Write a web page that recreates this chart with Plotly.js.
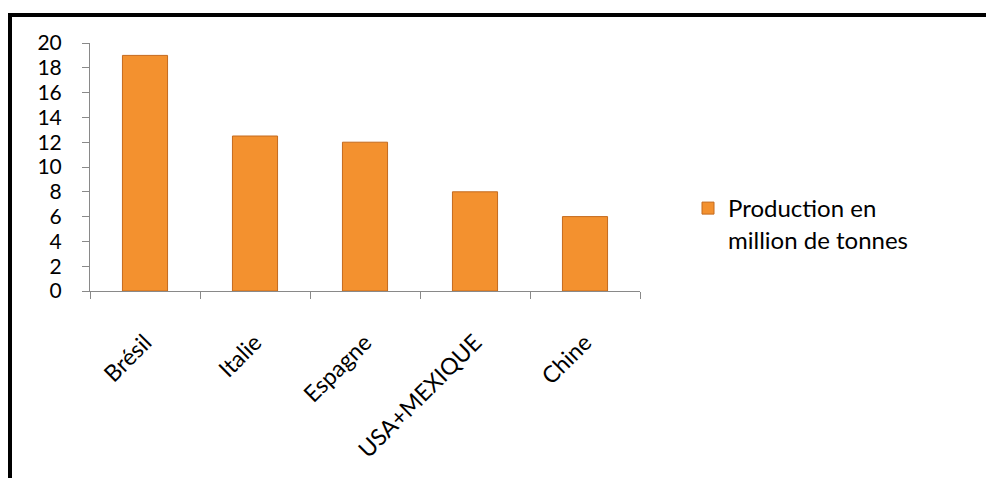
<!DOCTYPE html>
<html>
<head>
<meta charset="utf-8">
<script src="https://cdn.plot.ly/plotly-3.0.1.min.js"></script>
<style>
  html, body { margin: 0; padding: 0; background: #fff; }
  #chart { width: 986px; height: 478px; }
</style>
</head>
<body>
<div id="chart"></div>
<script>
const categories = ["Brésil", "Italie", "Espagne", "USA+MEXIQUE", "Chine"];
const production = [19, 12.5, 12, 8, 6];
const seriesName = "Production en<br>million de tonnes";
const yTicks = [0, 2, 4, 6, 8, 10, 12, 14, 16, 18, 20];

const FONT = "Lato, 'Open Sans', sans-serif";
const W = 986, H = 478;
const M = { l: 90, r: 346, t: 43, b: 187 };
const pw = W - M.l - M.r, ph = H - M.t - M.b;
const px = x => (x - M.l) / pw;
const py = y => (H - M.b - y) / ph;

const trace = {
  type: "bar",
  x: categories,
  y: production,
  name: seriesName,
  showlegend: true,
  width: 0.41,
  marker: { color: "#F3912F", line: { color: "#C46A1E", width: 1 } },
  hoverinfo: "x+y"
};

const layout = {
  width: W, height: H,
  margin: M,
  paper_bgcolor: "#ffffff",
  plot_bgcolor: "#ffffff",
  font: { family: FONT, size: 23, color: "#000000" },
  showlegend: true,
  xaxis: {
    type: "category",
    tickson: "boundaries",
    ticks: "outside",
    ticklen: 7,
    tickcolor: "#898989",
    tickwidth: 1,
    showline: true,
    linecolor: "#898989",
    linewidth: 1,
    showgrid: false,
    zeroline: false,
    tickangle: -45,
    ticklabelstandoff: 28,
    tickfont: { family: FONT, size: 23, color: "#000" }
  },
  yaxis: {
    range: [0, 20],
    tickvals: yTicks,
    ticktext: yTicks.map(String),
    ticks: "outside",
    ticklen: 7,
    tickcolor: "#898989",
    tickwidth: 1,
    showline: true,
    linecolor: "#898989",
    linewidth: 1,
    showgrid: false,
    zeroline: false,
    ticklabelstandoff: 16,
    tickfont: { family: FONT, size: 21, color: "#000" }
  },
  legend: {
    x: px(688), xanchor: "left",
    y: py(186), yanchor: "top",
    valign: "top",
    bgcolor: "rgba(0,0,0,0)",
    font: { family: FONT, size: 24, color: "#000" },
    itemwidth: 30
  },
  shapes: [
    {
      type: "path", xref: "paper", yref: "paper",
      path: `M ${px(10)} ${py(480)} L ${px(10)} ${py(15)} L ${px(990)} ${py(15)}`,
      line: { color: "#000000", width: 4 }
    }
  ]
};

Plotly.newPlot("chart", [trace], layout, { displayModeBar: false, staticPlot: true });
</script>
</body>
</html>
